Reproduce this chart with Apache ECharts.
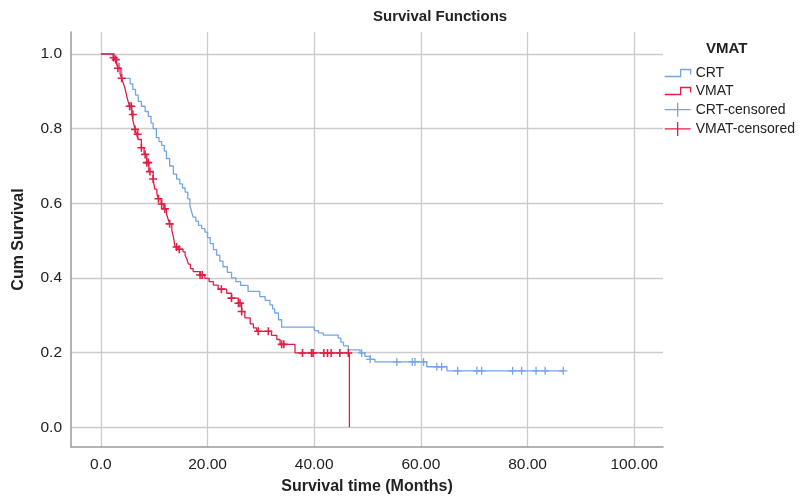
<!DOCTYPE html>
<html>
<head>
<meta charset="utf-8">
<script src="https://cdn.jsdelivr.net/npm/echarts@6.0.0/dist/echarts.min.js"></script>
<style>
html, body { margin: 0; padding: 0; background: #fff; }
#chart { width: 811px; height: 500px; }
</style>
</head>
<body>
<div id="chart"></div>
<script>
// Kaplan-Meier steps: [time in months, cum survival after the event]
const crtSteps = [
  [0, 1.0], [2.6, 0.99], [3.0, 0.975], [3.5, 0.96], [3.9, 0.935], [5.5, 0.92],
  [6.0, 0.905], [6.5, 0.89], [7.0, 0.873], [7.6, 0.86], [8.3, 0.846], [8.9, 0.833],
  [9.4, 0.815], [9.8, 0.80], [10.4, 0.776], [10.9, 0.765], [11.4, 0.755], [11.9, 0.74],
  [12.3, 0.72], [12.9, 0.70], [13.6, 0.678], [14.2, 0.665], [14.8, 0.652], [15.3, 0.641],
  [15.8, 0.63], [16.3, 0.612], [16.7, 0.594], [17.0, 0.578], [17.3, 0.563], [17.8, 0.552],
  [18.3, 0.541], [18.9, 0.532], [19.5, 0.523], [20.0, 0.508], [20.5, 0.492], [21.1, 0.476],
  [21.7, 0.461], [22.3, 0.445], [22.9, 0.43], [23.7, 0.415], [24.5, 0.40], [25.3, 0.39],
  [26.2, 0.38], [27.6, 0.364], [29.8, 0.35], [30.8, 0.34], [31.7, 0.328], [32.2, 0.317],
  [32.6, 0.306], [33.3, 0.288], [33.9, 0.268], [40.0, 0.259], [40.8, 0.253], [41.7, 0.247],
  [44.5, 0.239], [45.0, 0.228], [45.5, 0.218], [46.4, 0.207], [48.6, 0.199], [49.5, 0.19],
  [50.5, 0.182], [51.4, 0.175], [61.1, 0.162], [64.9, 0.151], [86.7, 0.151]
]
const vmatSteps = [
  [0, 1.0], [2.3, 0.99], [2.6, 0.985], [2.9, 0.975], [3.2, 0.962], [3.6, 0.948],
  [3.9, 0.935], [4.2, 0.922], [4.5, 0.909], [4.8, 0.89], [5.1, 0.873], [5.4, 0.86],
  [5.8, 0.838], [6.1, 0.816], [6.4, 0.798], [6.7, 0.785], [7.0, 0.771], [7.6, 0.749],
  [8.1, 0.731], [8.6, 0.709], [9.0, 0.685], [9.8, 0.665], [10.1, 0.638], [10.5, 0.625],
  [10.8, 0.612], [11.3, 0.598], [11.8, 0.585], [12.3, 0.572], [12.6, 0.558], [12.9, 0.545],
  [13.3, 0.528], [13.6, 0.51], [13.9, 0.483], [14.5, 0.477], [15.4, 0.47], [15.8, 0.46],
  [16.1, 0.452], [16.4, 0.437], [16.8, 0.425], [17.3, 0.417], [18.6, 0.408], [19.5, 0.399],
  [20.3, 0.39], [21.1, 0.381], [22.0, 0.37], [23.6, 0.359], [24.5, 0.346], [25.8, 0.332],
  [26.4, 0.31], [27.0, 0.293], [28.0, 0.277], [28.6, 0.266], [29.2, 0.257], [32.0, 0.246],
  [33.0, 0.235], [33.6, 0.222], [36.4, 0.199], [46.6, 0]
]
// censored times (months)
const crtCensored = [48.9, 50.5, 55.5, 58.4, 58.9, 60.5, 63.0, 63.9, 66.9, 70.5, 71.4, 77.2, 78.9, 81.6, 83.3, 86.7]
const vmatCensored = [
  2.4, 2.8, 3.2, 3.9, 5.4, 5.7, 6.0, 6.4, 6.9, 7.6, 8.3, 8.6, 8.9, 9.2, 9.8, 10.8,
  11.4, 12.0, 12.9, 14.2, 14.7, 18.6, 19.0, 22.6, 24.5, 25.8, 26.1, 26.4, 29.5, 31.4,
  33.9, 34.3, 37.8, 39.5, 39.8, 41.8, 42.5, 43.2, 44.8, 46.4
]
const xTicks = [0, 20, 40, 60, 80, 100]
const yTicks = [0, 0.2, 0.4, 0.6, 0.8, 1.0]

const BLUE = '#73a5e6'
const RED = '#e11e46'
const FONT = 'Liberation Sans, Arial, sans-serif'

// survival value of a step curve at time t
const survivalAt = (steps, t) => {
  let s = steps[0][1]
  for (const [x, y] of steps) {
    if (x <= t) s = y
    else break
  }
  return s
}

const plusSymbol = 'path://M4,0h2v10h-2z M0,4h10v2h-10z'
const stepIcon = 'path://M0,7L16,7L16,0L26,0L26,5'
const plusIcon = 'path://M0,7L26,7M13,0L13,14'

const chart = echarts.init(document.getElementById('chart'), null, { renderer: 'canvas' })

chart.setOption({
  animation: false,
  backgroundColor: '#fff',
  textStyle: { fontFamily: FONT },
  title: [
    {
      text: 'Survival Functions',
      left: 373,
      top: 9,
      padding: 0,
      textStyle: { fontSize: 15, fontWeight: 'bold', color: '#222', fontFamily: FONT }
    },
    {
      text: 'VMAT',
      left: 706,
      top: 41,
      padding: 0,
      textStyle: { fontSize: 15, fontWeight: 'bold', color: '#222', fontFamily: FONT }
    }
  ],
  legend: {
    orient: 'vertical',
    left: 664,
    top: 66,
    padding: 0,
    itemWidth: 26,
    itemHeight: 14,
    itemGap: 4,
    selectedMode: false,
    textStyle: { fontSize: 14, color: '#222', fontFamily: FONT },
    data: [
      { name: 'CRT', icon: stepIcon, itemStyle: { color: 'rgba(0,0,0,0)', borderColor: BLUE, borderWidth: 1.3 } },
      { name: 'VMAT', icon: stepIcon, itemStyle: { color: 'rgba(0,0,0,0)', borderColor: RED, borderWidth: 1.3 } },
      { name: 'CRT-censored', icon: plusIcon, itemStyle: { color: 'rgba(0,0,0,0)', borderColor: BLUE, borderWidth: 1.3 } },
      { name: 'VMAT-censored', icon: plusIcon, itemStyle: { color: 'rgba(0,0,0,0)', borderColor: RED, borderWidth: 1.3 } }
    ]
  },
  grid: { left: 71, right: 148, top: 32, bottom: 50, containLabel: false },
  xAxis: {
    type: 'value',
    min: -5.6,
    max: 105.4,
    name: 'Survival time (Months)',
    nameLocation: 'middle',
    nameGap: 32,
    nameTextStyle: { fontSize: 16, fontWeight: 'bold', color: '#222', fontFamily: FONT },
    axisLine: { show: true, onZero: false, lineStyle: { color: '#9a9a9a', width: 1.5 } },
    axisTick: { show: false, customValues: xTicks },
    axisLabel: {
      customValues: xTicks,
      margin: 10,
      fontSize: 15.5,
      color: '#222',
      fontFamily: FONT,
      formatter: v => (v === 0 ? '0.0' : v.toFixed(2))
    },
    splitLine: { show: true, lineStyle: { color: '#cccccc', width: 1.3 } }
  },
  yAxis: {
    type: 'value',
    min: -0.053,
    max: 1.059,
    name: 'Cum Survival',
    nameLocation: 'middle',
    nameGap: 44,
    nameTextStyle: { fontSize: 16, fontWeight: 'bold', color: '#222', fontFamily: FONT },
    axisLine: { show: true, onZero: false, lineStyle: { color: '#9a9a9a', width: 1.5 } },
    axisTick: { show: false, customValues: yTicks },
    axisLabel: {
      customValues: yTicks,
      margin: 9,
      fontSize: 15.5,
      color: '#222',
      fontFamily: FONT,
      formatter: v => v.toFixed(1)
    },
    splitLine: { show: true, lineStyle: { color: '#cccccc', width: 1.3 } }
  },
  series: [
    {
      name: 'CRT',
      type: 'line',
      step: 'end',
      data: crtSteps,
      symbol: 'none',
      lineStyle: { color: BLUE, width: 1.3 },
      itemStyle: { color: BLUE },
      z: 3
    },
    {
      name: 'VMAT',
      type: 'line',
      step: 'end',
      data: vmatSteps,
      symbol: 'none',
      lineStyle: { color: RED, width: 1.3 },
      itemStyle: { color: RED },
      z: 3
    },
    {
      name: 'CRT-censored',
      type: 'scatter',
      data: crtCensored.map(t => [t, survivalAt(crtSteps, t)]),
      symbol: 'path://M4.2,0h1.6v10h-1.6z M0,4.2h10v1.6h-10z',
      symbolSize: 8,
      itemStyle: { color: BLUE, opacity: 1 },
      z: 4
    },
    {
      name: 'VMAT-censored',
      type: 'scatter',
      data: vmatCensored.map(t => [t, survivalAt(vmatSteps, t)]),
      symbol: plusSymbol,
      symbolSize: 8,
      itemStyle: { color: RED, opacity: 1 },
      z: 4
    }
  ]
})
</script>
</body>
</html>
